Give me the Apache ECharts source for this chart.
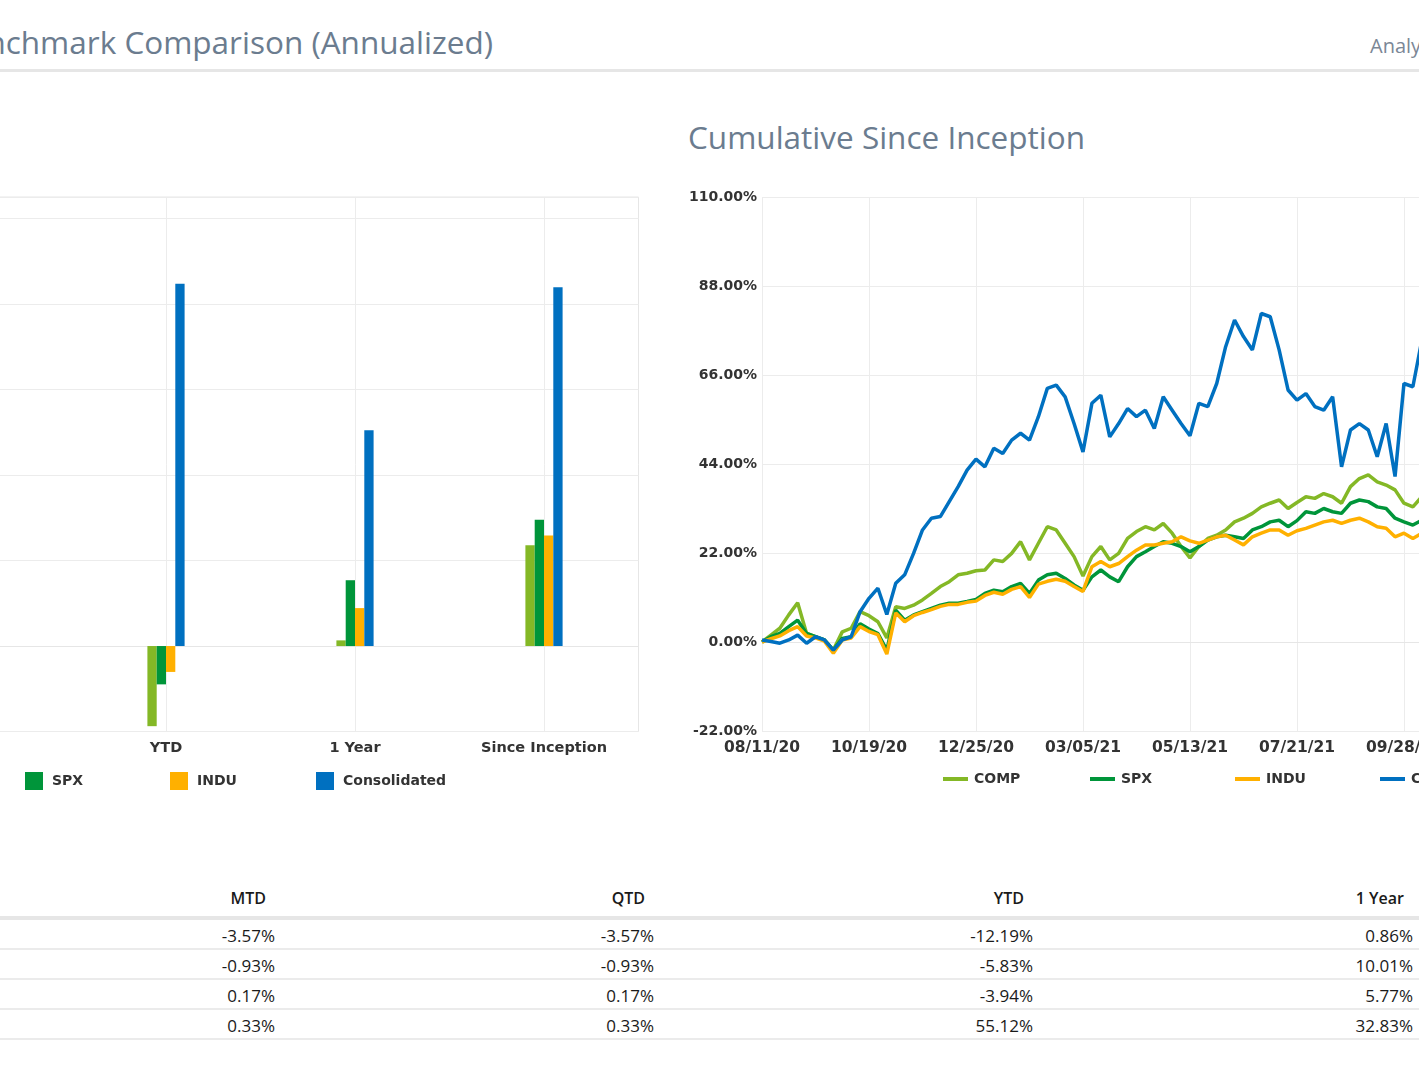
<!DOCTYPE html>
<html>
<head>
<meta charset="utf-8">
<title>Benchmark Comparison</title>
<script src="https://cdn.jsdelivr.net/npm/echarts@6/dist/echarts.min.js"></script>
<style>
    html, body {
        margin: 0;
        padding: 0;
        background: #fff;
    }
    body {
        position: relative;
        width: 1419px;
        height: 1066px;
        overflow: hidden;
        font-family: 'Open Sans', sans-serif;
    }
    #page-title {
        position: absolute;
        right: 926px;
        top: 20px;
        font-size: 31.5px;
        line-height: 44px;
        color: #6b7c8f;
        white-space: nowrap;
    }
    #page-link {
        position: absolute;
        left: 1370px;
        top: 32px;
        font-size: 20px;
        line-height: 28px;
        color: #7b8796;
        white-space: nowrap;
    }
    #title-rule {
        position: absolute;
        left: 0;
        top: 69px;
        width: 100%;
        height: 3px;
        background: #e6e6e6;
    }
    #line-title {
        position: absolute;
        left: 688px;
        top: 115px;
        font-size: 31.5px;
        line-height: 44px;
        color: #6b7c8f;
        white-space: nowrap;
    }
    #bar_chart {
        position: absolute;
        left: -420px;
        top: 100px;
        width: 1080px;
        height: 720px;
    }
    #line_chart {
        position: absolute;
        left: 680px;
        top: 100px;
        width: 900px;
        height: 720px;
    }
    #returns {
        position: absolute;
        left: -298px;
        top: 880px;
        width: 2017px;
        border-collapse: separate;
        border-spacing: 0;
        table-layout: fixed;
        color: #1a1a1a;
    }
    #returns th {
        font-size: 16px;
        font-weight: 600;
        text-align: right;
        padding: 6px 15px 6px 6px;
        line-height: 24px;
        border-bottom: 4px solid #e6e6e6;
        white-space: nowrap;
    }
    #returns td {
        font-size: 17px;
        text-align: right;
        padding: 4px 6px 0 6px;
        line-height: 24px;
        border-bottom: 2px solid #ebebeb;
        white-space: nowrap;
    }
    #returns .name {
        text-align: left;
    }
</style>
</head>
<body>
<div id="page-title">Benchmark Comparison (Annualized)</div>
<div id="page-link">Analytics</div>
<div id="title-rule"></div>
<div id="line-title">Cumulative Since Inception</div>
<div id="bar_chart"></div>
<div id="line_chart"></div>
<table id="returns">
    <colgroup>
        <col style="width:200px">
        <col style="width:379px">
        <col style="width:379px">
        <col style="width:379px">
        <col style="width:380px">
        <col style="width:300px">
    </colgroup>
    <thead><tr id="returns-head"></tr></thead>
    <tbody id="returns-body"></tbody>
</table>
<script>
// series names and colours
var seriesNames = ['COMP', 'SPX', 'INDU', 'Consolidated'];
var seriesColors = ['#84b826', '#00953a', '#ffb000', '#0070c0'];

// bar chart (annualized), %
var barCategories = ['MTD', 'QTD', 'YTD', '1 Year', 'Since Inception'];
var barComp = [-3.57, -3.57, -12.19, 0.86, 15.33];
var barSpx = [-0.93, -0.93, -5.83, 10.01, 19.19];
var barIndu = [0.17, 0.17, -3.94, 5.77, 16.8];
var barConsolidated = [0.33, 0.33, 55.12, 32.83, 54.56];

// table
var tableColumns = ['MTD', 'QTD', 'YTD', '1 Year'];
var tableComp = ['-3.57%', '-3.57%', '-12.19%', '0.86%'];
var tableSpx = ['-0.93%', '-0.93%', '-5.83%', '10.01%'];
var tableIndu = ['0.17%', '0.17%', '-3.94%', '5.77%'];
var tableConsolidated = ['0.33%', '0.33%', '55.12%', '32.83%'];

// cumulative since inception, %
var lineDates = ['08/11/20', '08/17/20', '08/22/20', '08/28/20', '09/03/20', '09/08/20', '09/14/20', '09/20/20', '09/26/20', '10/01/20', '10/07/20', '10/13/20',
    '10/19/20', '10/25/20', '10/30/20', '11/05/20', '11/10/20', '11/16/20', '11/22/20', '11/27/20', '12/03/20', '12/08/20', '12/14/20', '12/19/20',
    '12/25/20', '12/31/20', '01/06/21', '01/12/21', '01/17/21', '01/23/21', '01/29/21', '02/04/21', '02/10/21', '02/16/21', '02/21/21', '02/27/21',
    '03/05/21', '03/11/21', '03/16/21', '03/22/21', '03/28/21', '04/02/21', '04/08/21', '04/14/21', '04/20/21', '04/25/21', '05/01/21', '05/07/21',
    '05/13/21', '05/19/21', '05/24/21', '05/30/21', '06/05/21', '06/10/21', '06/16/21', '06/22/21', '06/28/21', '07/03/21', '07/09/21', '07/15/21',
    '07/21/21', '07/27/21', '08/01/21', '08/07/21', '08/13/21', '08/18/21', '08/24/21', '08/30/21', '09/05/21', '09/10/21', '09/16/21', '09/22/21',
    '09/28/21', '10/04/21', '10/09/21'];
var lineComp = [0, 1.7, 3.4, 6.7, 9.7, 2.1, 1.3, 0.5, -2.0, 2.5, 3.4, 7.5,
    6.5, 5.0, 1.0, 8.7, 8.3, 9.1, 10.4, 12.0, 13.7, 14.9, 16.6, 17.0,
    17.6, 17.8, 20.3, 19.9, 21.9, 24.8, 20.3, 24.4, 28.5, 27.7, 24.4, 21.1,
    16.3, 21.1, 23.6, 20.3, 21.9, 25.6, 27.3, 28.5, 27.7, 29.3, 26.9, 23.6,
    20.8, 23.6, 25.6, 26.4, 27.7, 29.7, 30.6, 31.8, 33.4, 34.3, 35.1, 33.0,
    34.5, 35.9, 35.5, 36.7, 35.9, 34.3, 38.4, 40.4, 41.3, 39.6, 38.8, 37.6,
    34.3, 33.4, 35.9];
var lineSpx = [0, 1.3, 2.1, 3.8, 5.4, 2.1, 1.3, 0.5, -2.0, 0.9, 1.3, 4.5,
    3.2, 2.1, -2.0, 7.9, 5.4, 6.7, 7.5, 8.3, 9.1, 9.6, 9.6, 10.0,
    10.5, 12.0, 12.8, 12.4, 13.7, 14.5, 12.0, 15.3, 16.6, 17.0, 15.7, 14.1,
    12.8, 16.1, 17.8, 16.1, 14.9, 18.6, 21.1, 22.3, 23.6, 24.8, 24.4, 23.6,
    22.3, 23.6, 25.2, 26.0, 26.4, 26.0, 25.6, 27.7, 28.5, 29.7, 30.1, 28.5,
    30.0, 32.2, 31.8, 33.0, 32.2, 31.8, 34.3, 35.1, 34.7, 33.4, 33.0, 30.6,
    29.7, 28.9, 30.1];
var lineIndu = [0, 0.8, 1.5, 2.8, 3.8, 1.5, 1.0, 0.2, -2.8, 0.5, 1.0, 3.8,
    2.6, 1.8, -3.0, 7.2, 5.0, 6.5, 7.3, 8.0, 8.8, 9.3, 9.3, 9.8,
    10.1, 11.5, 12.3, 11.8, 13.0, 13.7, 11.0, 14.3, 15.0, 15.5, 15.0, 13.7,
    12.5, 18.6, 19.9, 18.6, 19.4, 21.1, 22.7, 24.0, 24.0, 24.4, 24.8, 26.0,
    25.0, 24.4, 25.2, 26.0, 26.4, 25.2, 24.0, 26.0, 26.9, 27.7, 27.7, 26.4,
    27.5, 28.1, 28.9, 29.7, 30.1, 29.3, 30.1, 30.6, 29.7, 28.5, 28.1, 26.0,
    26.9, 25.6, 26.9];
var lineConsolidated = [0.5, 0.1, -0.3, 0.5, 1.7, -0.3, 1.3, 0.5, -2.0, 0.5, 1.3, 7.5,
    10.8, 13.3, 6.8, 14.5, 16.6, 21.9, 27.7, 30.6, 31.0, 34.7, 38.4, 42.5,
    45.2, 43.3, 47.9, 46.6, 49.9, 51.6, 49.9, 55.7, 62.7, 63.5, 60.6, 54.0,
    47.0, 59.0, 61.0, 50.7, 54.0, 57.7, 55.7, 57.3, 52.8, 60.6, 57.3, 54.0,
    51.0, 59.0, 58.2, 63.9, 73.0, 79.6, 75.5, 72.2, 81.2, 80.4, 72.2, 62.3,
    59.8, 61.4, 58.2, 57.3, 60.6, 43.3, 52.4, 54.0, 52.4, 45.8, 54.0, 40.9,
    63.9, 63.1, 74.6];

// axis ticks
var barAxisMin = -13, barAxisMax = 68.3, barAxisStep = 13;
var lineAxisMin = -22, lineAxisMax = 110, lineAxisStep = 22;

var chartFont = 'DejaVu Sans';
var labelColor = '#333';
var gridColor = '#ececec';

init_BarChart();
init_LineChart();
init_Table();

function init_BarChart() {
    var dom = document.getElementById('bar_chart');
    var myChart = echarts.init(dom);
    var values = [barComp, barSpx, barIndu, barConsolidated];
    var legendLeft = [299, 445, 590, 736];

    var legends = [];
    var series = [];
    for (var i = 0; i < seriesNames.length; i++) {
        legends.push({
            data: [seriesNames[i]],
            left: legendLeft[i],
            top: 672,
            padding: 0,
            icon: 'rect',
            itemWidth: 18,
            itemHeight: 18,
            selectedMode: false,
            textStyle: {
                fontFamily: chartFont,
                fontWeight: 'bold',
                fontSize: 14,
                color: labelColor,
                padding: [0, 0, 0, 4]
            }
        });
        series.push({
            name: seriesNames[i],
            type: 'bar',
            barWidth: 9.3,
            barGap: '0%',
            itemStyle: {
                color: seriesColors[i]
            },
            data: values[i]
        });
    }

    var option = {
        animation: false,
        legend: legends,
        grid: {
            left: 113.5,
            right: 21.5,
            top: 97,
            bottom: 88.5,
            show: true,
            borderColor: '#e6e6e6',
            borderWidth: 1
        },
        xAxis: {
            type: 'category',
            data: barCategories,
            axisLine: {
                lineStyle: {
                    color: '#e6e6e6'
                }
            },
            axisTick: {
                show: false
            },
            axisLabel: {
                margin: 9,
                fontFamily: chartFont,
                fontWeight: 'bold',
                fontSize: 14.5,
                color: labelColor
            },
            splitLine: {
                show: true,
                alignWithLabel: true,
                lineStyle: {
                    color: gridColor
                }
            }
        },
        yAxis: {
            type: 'value',
            min: barAxisMin,
            max: barAxisMax,
            interval: barAxisStep,
            axisLine: {
                show: false
            },
            axisTick: {
                show: false
            },
            axisLabel: {
                fontFamily: chartFont,
                fontWeight: 'bold',
                fontSize: 14,
                color: labelColor,
                formatter: function(v) {
                    return v.toFixed(2) + '%';
                }
            },
            splitLine: {
                lineStyle: {
                    color: gridColor
                }
            }
        },
        series: series
    };
    myChart.setOption(option, true);
}

function init_LineChart() {
    var dom = document.getElementById('line_chart');
    var myChart = echarts.init(dom);
    var values = [lineComp, lineSpx, lineIndu, lineConsolidated];
    var legendLeft = [263, 410, 555, 700];

    var legends = [];
    var series = [];
    for (var i = 0; i < seriesNames.length; i++) {
        legends.push({
            data: [seriesNames[i]],
            left: legendLeft[i],
            top: 672,
            padding: 0,
            icon: 'rect',
            itemWidth: 25,
            itemHeight: 4,
            selectedMode: false,
            textStyle: {
                fontFamily: chartFont,
                fontWeight: 'bold',
                fontSize: 14,
                color: labelColor,
                padding: [0, 0, 0, 1]
            }
        });
        series.push({
            name: seriesNames[i],
            type: 'line',
            symbol: 'none',
            showSymbol: false,
            lineStyle: {
                width: 3.5,
                color: seriesColors[i]
            },
            itemStyle: {
                color: seriesColors[i]
            },
            data: values[i]
        });
    }

    var option = {
        animation: false,
        legend: legends,
        grid: {
            left: 82,
            right: 158.2,
            top: 97,
            bottom: 89
        },
        xAxis: {
            type: 'category',
            boundaryGap: false,
            data: lineDates,
            axisLine: {
                lineStyle: {
                    color: '#e6e6e6'
                }
            },
            axisTick: {
                show: false
            },
            axisLabel: {
                interval: 11,
                margin: 9,
                fontFamily: chartFont,
                fontWeight: 'bold',
                fontSize: 15.5,
                color: labelColor
            },
            splitLine: {
                show: true,
                interval: 11,
                lineStyle: {
                    color: gridColor
                }
            }
        },
        yAxis: {
            type: 'value',
            min: lineAxisMin,
            max: lineAxisMax,
            interval: lineAxisStep,
            axisLine: {
                show: false
            },
            axisTick: {
                show: false
            },
            axisLabel: {
                margin: 5,
                fontFamily: chartFont,
                fontWeight: 'bold',
                fontSize: 14,
                color: labelColor,
                formatter: function(v) {
                    return v.toFixed(2) + '%';
                }
            },
            splitLine: {
                lineStyle: {
                    color: gridColor
                }
            }
        },
        series: series
    };
    myChart.setOption(option, true);
}

function init_Table() {
    var head = '<th class="name"></th>';
    for (var c = 0; c < tableColumns.length; c++) {
        head += '<th>' + tableColumns[c] + '</th>';
    }
    head += '<th></th>';
    document.getElementById('returns-head').innerHTML = head;

    var rows = [tableComp, tableSpx, tableIndu, tableConsolidated];
    var body = '';
    for (var r = 0; r < rows.length; r++) {
        body += '<tr><td class="name">' + seriesNames[r] + '</td>';
        for (var k = 0; k < rows[r].length; k++) {
            body += '<td>' + rows[r][k] + '</td>';
        }
        body += '<td></td></tr>';
    }
    document.getElementById('returns-body').innerHTML = body;
}
</script>
</body>
</html>
